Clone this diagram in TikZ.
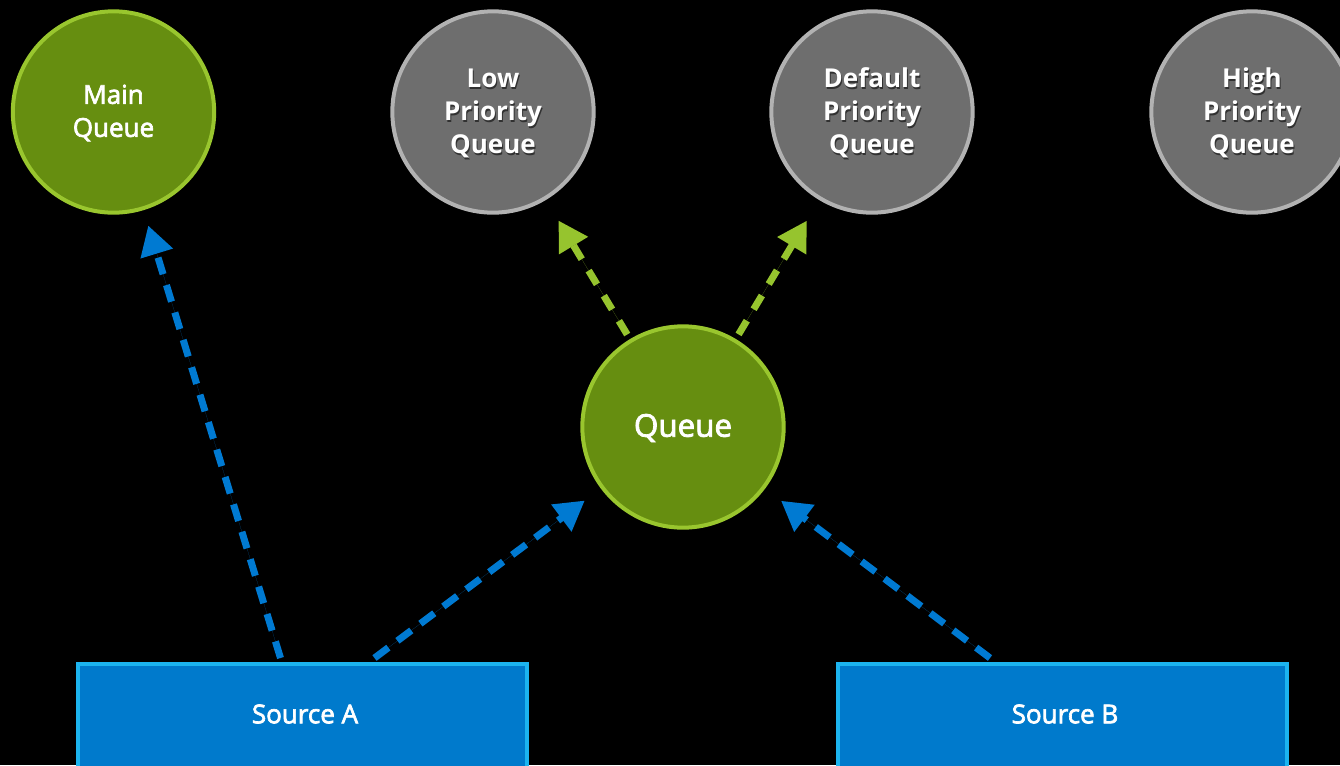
\documentclass[tikz,border=0pt]{standalone}
\usepackage{fontspec}
\setmainfont{Open Sans}
\newfontfamily\mediumsans{Open Sans}[FakeBold=2.6]
\usetikzlibrary{arrows.meta,calc}

\definecolor{qfill}{RGB}{102,142,16}
\definecolor{qedge}{RGB}{153,198,46}
\definecolor{gfill}{RGB}{110,110,110}
\definecolor{gedge}{RGB}{178,178,178}
\definecolor{sfill}{RGB}{0,122,204}
\definecolor{sedge}{RGB}{28,180,240}
\definecolor{barrow}{RGB}{0,122,210}
\definecolor{garrow}{RGB}{150,196,46}

\tikzset{
  greenq/.style={circle, draw=qedge, fill=qfill, line width=3pt,
    minimum size=151pt, inner sep=0pt},
  grayq/.style={circle, draw=gedge, fill=gfill, line width=3pt,
    minimum size=151pt, inner sep=0pt},
  qtext/.style={text=white, align=center, font=\bfseries\fontsize{19.5}{24.75}\selectfont},
  maintext/.style={text=white, align=center, font=\mediumsans\fontsize{19.5}{24.75}\selectfont},
  qshadow/.style={qtext, text=black, opacity=0.55},
  bigtext/.style={text=white, font=\mediumsans\fontsize{23.5}{28}\selectfont},
  srctext/.style={text=white, font=\mediumsans\fontsize{19.5}{24}\selectfont},
  srcbox/.style={rectangle, draw=sedge, fill=sfill, line width=3pt,
    minimum width=336.75pt, minimum height=102pt, inner sep=0pt},
  flowarrow/.style={line width=5.25pt, -{Triangle[length=22pt,width=24pt]}},
  bluearrow/.style={flowarrow, draw=barrow, fill=barrow, dash pattern=on 13pt off 8.5pt},
  greenarrow/.style={flowarrow, draw=garrow, fill=garrow, dash pattern=on 12pt off 10pt}
}

\begin{document}
\begin{tikzpicture}[x=0.75pt, y=-0.75pt]
  \fill[black] (0,0) rectangle (1340,765);
  \useasboundingbox (0,0) rectangle (1340,765);

  % queues
  \node[greenq] (mainq) at (113.5,112) {};
  \node[maintext] (mainqt) at (113.5,113) {Main\\Queue};

  \node[grayq] (lowq) at (493,112) {};
  \node[qshadow] (lowqs) at (494,115) {Low\\Priority\\Queue};
  \node[qtext] (lowqt) at (493,113) {Low\\Priority\\Queue};

  \node[grayq] (defq) at (872,112) {};
  \node[qshadow] (defqs) at (873,115) {Default\\Priority\\Queue};
  \node[qtext] (defqt) at (872,113) {Default\\Priority\\Queue};

  \node[grayq] (highq) at (1252,112) {};
  \node[qshadow] (highqs) at (1253,115) {High\\Priority\\Queue};
  \node[qtext] (highqt) at (1252,113) {High\\Priority\\Queue};

  \node[greenq] (queue) at (683,427) {};
  \node[bigtext] (queuet) at (683,428) {Queue};

  % sources
  \node[srcbox] (srcA) at (302.5,732) {};
  \node[srctext] (srcAt) at (305,714) {Source A};
  \node[srcbox] (srcB) at (1062,732) {};
  \node[srctext] (srcBt) at (1065,714) {Source B};

  % blue flows from the sources
  \draw[bluearrow, shorten >=12pt] ([xshift=-16.5pt,yshift=3pt]srcA.north) -- (mainq);
  \draw[bluearrow, shorten >=15pt] ([xshift=54pt,yshift=3pt]srcA.north) -- (queue);
  \draw[bluearrow, shorten >=15pt] ([xshift=-54pt,yshift=3pt]srcB.north) -- (queue);

  % green flows to the global queues
  \draw[greenarrow, shorten <=4pt, shorten >=18pt] (queue) -- (lowq);
  \draw[greenarrow, shorten <=4pt, shorten >=18pt] (queue) -- (defq);
\end{tikzpicture}
\end{document}
